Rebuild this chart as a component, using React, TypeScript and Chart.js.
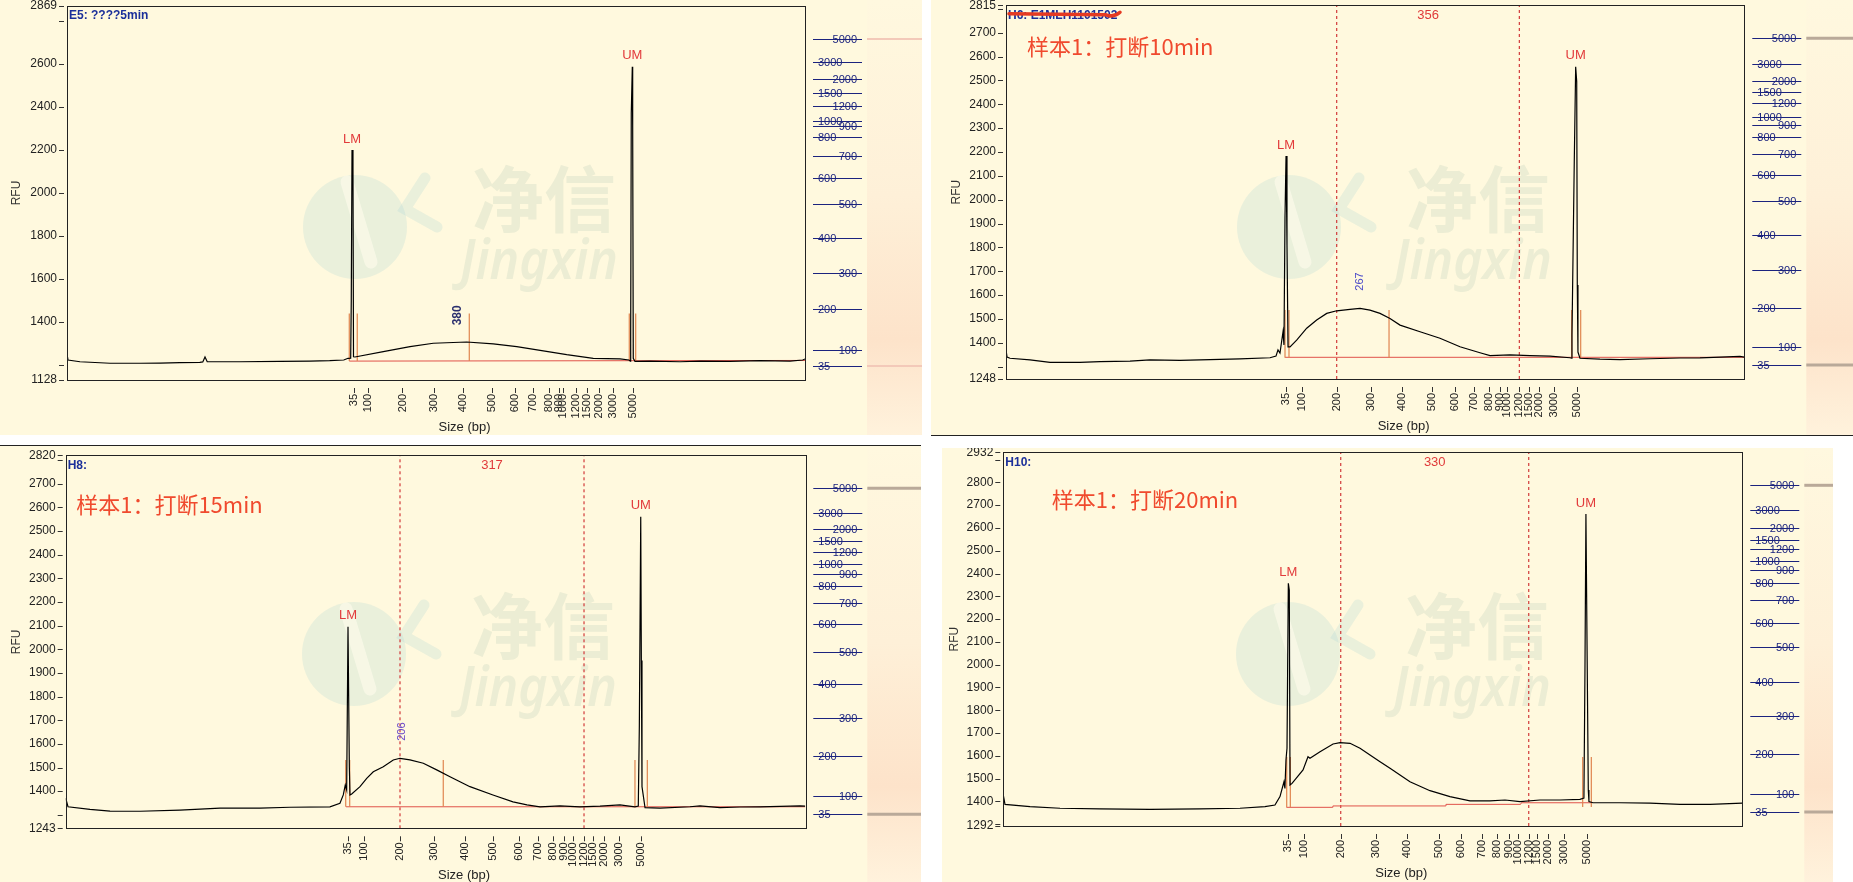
import React, { useEffect, useRef } from 'react';
import { Chart, registerables } from 'chart.js';

Chart.register(...registerables);

// ---------------- shared ----------------
const LADDER_BP = [35, 100, 200, 300, 400, 500, 600, 700, 800, 900, 1000, 1200, 1500, 2000, 3000, 5000];

// ---------------- Panel 1 : E5 ----------------
const p1Time = [0, 0.14, 1.76, 5.83, 9.89, 12.6, 15.3, 18.0, 18.4, 18.7, 19.0, 23.4, 28.9, 32.9, 35.6, 37.5, 38.08, 38.44, 38.52, 38.62, 38.75, 38.82, 39.02, 42.86, 46.48, 49.63, 54.16, 57.76, 60.94, 64.54, 67.71, 71.31, 74.93, 76.15, 76.33, 76.38, 76.46, 76.6, 76.65, 76.73, 76.96, 78.99, 83.06, 85.77, 89.84, 93.9, 97.97, 99.7, 100];
const p1Rfu = [1249, 1221, 1213, 1206, 1206, 1207, 1209, 1210, 1212, 1235, 1213, 1213, 1215, 1216, 1218, 1221, 1229, 1230, 1500, 2199, 2115, 1236, 1235, 1260, 1283, 1299, 1305, 1296, 1283, 1264, 1246, 1229, 1226, 1221, 1216, 1330, 2369, 2586, 2315, 1229, 1215, 1216, 1213, 1216, 1215, 1218, 1216, 1221, 1226];
const p1LadderTime = [38.89, 40.79, 45.46, 49.7, 53.69, 57.62, 60.7, 63.18, 65.35, 66.67, 67.21, 68.97, 70.46, 72.05, 74.02, 76.73];
const p1YTicks = [1128, 1200, 1400, 1600, 1800, 2000, 2200, 2400, 2600, 2800, 2869];
const p1YUnlabeled = [1200, 2800];
const p1Markers = [38.25, 39.33, 54.51, 76.19, 77.06];
const p1MarkerRange = [1216, 1438];
const p1BaseTime = [38.25, 100];
const p1BaseRfu = [1216, 1219];

// ---------------- Panel 2 : H6 (10 min) ----------------
const p2Time = [0, 0.14, 0.54, 3.25, 5.96, 10.02, 12.73, 16.8, 19.5, 23.57, 26.28, 31.69, 35.76, 36.57, 36.84, 37.11, 37.52, 37.65, 37.79, 37.93, 38.06, 38.2, 38.47, 39.37, 40.73, 42.08, 43.44, 44.79, 46.59, 47.95, 49.3, 50.66, 52.01, 53.37, 56.08, 58.78, 61.49, 64.2, 65.56, 68.26, 70.97, 73.68, 76.39, 76.62, 76.66, 76.97, 77.16, 77.3, 77.38, 77.47, 77.74, 80.45, 83.16, 87.22, 91.29, 94.0, 96.71, 99.42, 100];
const p2Rfu = [1370, 1340, 1335, 1328, 1318, 1318, 1321, 1323, 1328, 1326, 1328, 1332, 1337, 1344, 1370, 1357, 1446, 1391, 1929, 2183, 1810, 1383, 1383, 1411, 1461, 1495, 1523, 1534, 1540, 1544, 1537, 1523, 1502, 1474, 1446, 1419, 1383, 1358, 1346, 1349, 1346, 1344, 1337, 1335, 1432, 2159, 2557, 2495, 1642, 1361, 1335, 1331, 1329, 1333, 1336, 1337, 1340, 1343, 1340];
const p2LadderTime = [37.93, 40.05, 44.79, 49.4, 53.6, 57.66, 60.82, 63.39, 65.46, 66.91, 67.82, 69.53, 70.8, 72.15, 74.23, 77.3];
const p2YTicks = [1248, 1300, 1400, 1500, 1600, 1700, 1800, 1900, 2000, 2100, 2200, 2300, 2400, 2500, 2600, 2700, 2800, 2815];
const p2YUnlabeled = [1300, 2800];
const p2Markers = [37.79, 38.33, 51.88, 76.62, 77.84];
const p2MarkerRange = [1337, 1537];
const p2BaseTime = [37.8, 100];
const p2BaseRfu = [1339, 1339];
const p2Region = [200, 1200];

// ---------------- Panel 3 : H8 (15 min) ----------------
const p3Time = [0, 0.31, 3.28, 5.99, 10.05, 15.45, 20.86, 26.27, 30.33, 35.73, 37.08, 37.53, 37.8, 37.99, 38.17, 38.35, 38.44, 38.67, 39.79, 40.7, 41.59, 42.94, 44.29, 45.2, 46.55, 48.35, 50.16, 51.96, 54.66, 57.77, 60.48, 62.37, 64.13, 66.83, 69.54, 72.24, 74.94, 76.97, 77.42, 77.56, 77.75, 77.83, 77.92, 78.33, 80.36, 84.41, 85.76, 88.47, 91.17, 93.88, 96.58, 99.29, 100];
const p3Rfu = [1370, 1334, 1323, 1316, 1315, 1320, 1328, 1328, 1332, 1334, 1349, 1384, 1426, 1405, 2095, 1503, 1384, 1388, 1419, 1454, 1482, 1503, 1532, 1539, 1532, 1518, 1490, 1461, 1419, 1384, 1355, 1342, 1334, 1338, 1334, 1337, 1342, 1334, 1337, 1673, 2560, 1952, 1419, 1330, 1328, 1334, 1338, 1330, 1333, 1334, 1336, 1338, 1337];
const p3LadderTime = [38.13, 40.37, 45.2, 49.8, 53.99, 57.82, 61.29, 63.82, 65.93, 67.42, 68.63, 70.08, 71.34, 72.78, 74.81, 77.79];
const p3YTicks = [1243, 1300, 1400, 1500, 1600, 1700, 1800, 1900, 2000, 2100, 2200, 2300, 2400, 2500, 2600, 2700, 2800, 2820];
const p3YUnlabeled = [1300, 2800];
const p3Markers = [37.86, 38.4, 51.05, 76.97, 78.64];
const p3MarkerRange = [1334, 1532];
const p3BaseTime = [37.9, 100];
const p3BaseRfu = [1334, 1334];
const p3Region = [200, 1200];

// ---------------- Panel 4 : H10 (20 min) ----------------
const p4Time = [0, 0.23, 3.61, 7.67, 13.08, 19.85, 26.61, 32.03, 35.41, 36.76, 37.44, 37.98, 38.11, 38.25, 38.39, 38.57, 38.7, 38.8, 39.07, 40.56, 41.23, 41.5, 42.86, 44.62, 45.57, 46.92, 48.27, 49.62, 50.98, 52.33, 53.68, 55.03, 57.74, 60.44, 63.15, 65.86, 67.89, 69.92, 72.62, 75.33, 78.03, 78.57, 78.71, 78.84, 79.02, 79.16, 79.25, 79.79, 83.44, 87.51, 91.57, 95.63, 100];
const p4Rfu = [1428, 1387, 1377, 1370, 1367, 1365, 1367, 1370, 1377, 1384, 1421, 1486, 1457, 1582, 1633, 2357, 2328, 1472, 1479, 1538, 1596, 1589, 1618, 1652, 1658, 1655, 1633, 1604, 1574, 1545, 1516, 1486, 1447, 1421, 1402, 1402, 1406, 1399, 1406, 1406, 1409, 1415, 1977, 2661, 1977, 1450, 1399, 1394, 1394, 1392, 1387, 1387, 1392];
const p4LadderTime = [38.48, 40.73, 45.66, 50.39, 54.59, 58.92, 61.94, 64.74, 66.85, 68.43, 69.61, 71.1, 72.22, 73.71, 75.83, 78.94];
const p4YTicks = [1292, 1300, 1400, 1500, 1600, 1700, 1800, 1900, 2000, 2100, 2200, 2300, 2400, 2500, 2600, 2700, 2800, 2900, 2932];
const p4YUnlabeled = [1300, 2900];
const p4Markers = [38.35, 38.84, 78.4, 79.57];
const p4MarkerRange = [1375, 1595];
const p4BaseTime = [38.3, 44.5, 44.6, 59.8, 59.9, 70.0, 70.1, 79.6];
const p4BaseRfu = [1374, 1374, 1380, 1380, 1387, 1387, 1394, 1394];
const p4Region = [200, 1200];

// ---------------- specs (built from the arrays) ----------------
type Spec = {
  time: number[]; rfu: number[]; ladderTime: number[];
  yTicks: number[]; yUnlabeled: number[];
  markers: number[]; markerRange: number[];
  baseTime: number[]; baseRfu: number[];
  region: number[] | null; regionLabel: string;
  peakBp: number | null; title: string; note: string;
};

const SPECS: Spec[] = [
  { time: p1Time, rfu: p1Rfu, ladderTime: p1LadderTime, yTicks: p1YTicks, yUnlabeled: p1YUnlabeled, markers: p1Markers, markerRange: p1MarkerRange, baseTime: p1BaseTime, baseRfu: p1BaseRfu, region: null, regionLabel: '', peakBp: 380, title: 'E5: ????5min', note: '' },
  { time: p2Time, rfu: p2Rfu, ladderTime: p2LadderTime, yTicks: p2YTicks, yUnlabeled: p2YUnlabeled, markers: p2Markers, markerRange: p2MarkerRange, baseTime: p2BaseTime, baseRfu: p2BaseRfu, region: p2Region, regionLabel: '356', peakBp: 267, title: 'H6: E1MLH1101502', note: '样本1：打断10min' },
  { time: p3Time, rfu: p3Rfu, ladderTime: p3LadderTime, yTicks: p3YTicks, yUnlabeled: p3YUnlabeled, markers: p3Markers, markerRange: p3MarkerRange, baseTime: p3BaseTime, baseRfu: p3BaseRfu, region: p3Region, regionLabel: '317', peakBp: 206, title: 'H8:', note: '样本1：打断15min' },
  { time: p4Time, rfu: p4Rfu, ladderTime: p4LadderTime, yTicks: p4YTicks, yUnlabeled: p4YUnlabeled, markers: p4Markers, markerRange: p4MarkerRange, baseTime: p4BaseTime, baseRfu: p4BaseRfu, region: p4Region, regionLabel: '330', peakBp: null, title: 'H10:', note: '样本1：打断20min' },
];

// ---------------- layout / style (kept separate from data) ----------------
type Lay = {
  left: number; top: number; w: number; h: number;
  pl: number; pt: number; pr: number; pb: number;
  rfuX: number; wm: number[]; noteDx: number; noteDy: number;
  bandColor: string; bandWidth: number; peakColor: string; peakFont: string; redact: boolean;
};

const LAYS: Lay[] = [
  { left: 0, top: 0, w: 922, h: 435, pl: 67, pt: 6, pr: 805, pb: 380, rfuX: 17, wm: [355, 227], noteDx: 0, noteDy: 0, bandColor: '#F3C9B9', bandWidth: 2, peakColor: '#2A2F6E', peakFont: 'bold 12px "Liberation Sans"', redact: false },
  { left: 931, top: 0, w: 922, h: 435, pl: 75, pt: 5.3, pr: 813.3, pb: 379, rfuX: 26, wm: [358, 227], noteDx: 21, noteDy: 41.5, bandColor: '#B9A999', bandWidth: 3, peakColor: '#4A4AC8', peakFont: '11px "Liberation Sans"', redact: true },
  { left: 0, top: 446, w: 921, h: 436, pl: 65.7, pt: 9.3, pr: 805.3, pb: 382.3, rfuX: 17, wm: [354, 208], noteDx: 10.5, noteDy: 49.7, bandColor: '#B9A999', bandWidth: 3, peakColor: '#6A48C8', peakFont: '11px "Liberation Sans"', redact: false },
  { left: 942, top: 448, w: 891, h: 434, pl: 61.3, pt: 4.3, pr: 800.3, pb: 378, rfuX: 13, wm: [346, 206], noteDx: 48.5, noteDy: 47.7, bandColor: '#B9A999', bandWidth: 3, peakColor: '#4A4AC8', peakFont: '11px "Liberation Sans"', redact: false },
];

const BG = '#FFF9DE';

function interp(xs: number[], ys: number[], x: number) {
  if (x <= xs[0]) return ys[0];
  for (let i = 1; i < xs.length; i++) {
    if (x <= xs[i]) {
      const f = (x - xs[i - 1]) / (xs[i] - xs[i - 1]);
      return ys[i - 1] + f * (ys[i] - ys[i - 1]);
    }
  }
  return ys[ys.length - 1];
}

function peakIn(spec: Spec, t0: number, t1: number) {
  let bi = -1;
  for (let i = 0; i < spec.time.length; i++) {
    if (spec.time[i] >= t0 && spec.time[i] <= t1 && (bi < 0 || spec.rfu[i] > spec.rfu[bi])) bi = i;
  }
  return { t: spec.time[bi], v: spec.rfu[bi] };
}

function makePlugin(spec: Spec, lay: Lay) {
  const line = (ctx: CanvasRenderingContext2D, x0: number, y0: number, x1: number, y1: number) => {
    ctx.beginPath(); ctx.moveTo(x0, y0); ctx.lineTo(x1, y1); ctx.stroke();
  };
  return {
    id: 'decor',
    beforeDatasetsDraw(chart: any) {
      const ctx: CanvasRenderingContext2D = chart.ctx;
      const a = chart.chartArea;
      const [cx, cy] = lay.wm;
      ctx.save();
      ctx.beginPath(); ctx.rect(a.left, a.top, a.right - a.left, a.bottom - a.top); ctx.clip();
      ctx.fillStyle = 'rgba(150,205,209,0.2)';
      ctx.beginPath(); ctx.arc(cx, cy, 52, 0, Math.PI * 2); ctx.fill();
      ctx.lineCap = 'round';
      ctx.strokeStyle = 'rgba(255,252,236,0.6)'; ctx.lineWidth = 13;
      line(ctx, cx - 8, cy - 45, cx + 16, cy + 35);
      ctx.strokeStyle = 'rgba(150,205,209,0.2)'; ctx.lineWidth = 11;
      ctx.beginPath(); ctx.moveTo(cx + 70, cy - 49); ctx.lineTo(cx + 50, cy - 18); ctx.lineTo(cx + 82, cy); ctx.stroke();
      ctx.fillStyle = 'rgba(150,185,165,0.18)';
      ctx.font = 'bold 72px "Noto Sans CJK SC"'; ctx.textAlign = 'left'; ctx.textBaseline = 'middle';
      ctx.fillText('净信', cx + 117, cy - 28);
      ctx.font = 'italic 600 56px "Noto Sans"'; ctx.textBaseline = 'alphabetic';
      ctx.fillText('Jingxin', cx + 105, cy + 52, 158);
      ctx.restore();
    },
    afterDraw(chart: any) {
      const ctx: CanvasRenderingContext2D = chart.ctx;
      const a = chart.chartArea;
      const xs = chart.scales.x, ys = chart.scales.y;
      ctx.save();
      // plot frame
      ctx.strokeStyle = '#222'; ctx.lineWidth = 1;
      ctx.strokeRect(Math.round(a.left) + 0.5, Math.round(a.top) + 0.5, Math.round(a.right - a.left), Math.round(a.bottom - a.top));
      // tick marks
      ctx.strokeStyle = '#333';
      spec.yTicks.forEach((v) => { const y = Math.round(ys.getPixelForValue(v)) + 0.5; line(ctx, a.left - 8, y, a.left - 3, y); });
      spec.ladderTime.forEach((t) => { const x = Math.round(xs.getPixelForValue(t)) + 0.5; line(ctx, x, a.bottom + 8, x, a.bottom + 13); });
      // title
      ctx.font = 'bold 12px "Liberation Sans"'; ctx.fillStyle = '#1B2F9A'; ctx.textAlign = 'left'; ctx.textBaseline = 'middle';
      ctx.fillText(spec.title, a.left + 2, a.top + 10);
      if (lay.redact) {
        ctx.strokeStyle = '#E53A22'; ctx.lineWidth = 3.5; ctx.lineCap = 'round';
        ctx.beginPath(); ctx.moveTo(a.left + 3, a.top + 8.5); ctx.lineTo(a.left + 100, a.top + 9.5);
        ctx.quadraticCurveTo(a.left + 108, a.top + 12.5, a.left + 114, a.top + 7); ctx.stroke();
        ctx.lineCap = 'butt'; ctx.lineWidth = 1;
      }
      // annotation
      if (spec.note) {
        ctx.font = '22px "Noto Sans CJK SC"'; ctx.fillStyle = '#F04A2E'; ctx.textAlign = 'left'; ctx.textBaseline = 'middle';
        ctx.fillText(spec.note, a.left + lay.noteDx, a.top + lay.noteDy);
      }
      // LM / UM labels
      const lt = spec.ladderTime;
      const lm = peakIn(spec, lt[0] - 1.5, lt[0] + 1.5);
      const um = peakIn(spec, lt[lt.length - 1] - 1.5, lt[lt.length - 1] + 1.5);
      ctx.font = '13px "Liberation Sans"'; ctx.fillStyle = '#E23B3B'; ctx.textAlign = 'center'; ctx.textBaseline = 'middle';
      ctx.fillText('LM', xs.getPixelForValue(lm.t), ys.getPixelForValue(lm.v) - 11);
      ctx.fillText('UM', xs.getPixelForValue(um.t), ys.getPixelForValue(um.v) - 11);
      // region label
      if (spec.region) {
        const t1 = interp(LADDER_BP, lt, spec.region[0]);
        const t2 = interp(LADDER_BP, lt, spec.region[1]);
        ctx.fillStyle = '#E03A3A';
        ctx.fillText(spec.regionLabel, (xs.getPixelForValue(t1) + xs.getPixelForValue(t2)) / 2, a.top + 10);
      }
      // peak size label (rotated)
      if (spec.peakBp !== null) {
        const tp = interp(LADDER_BP, lt, spec.peakBp);
        const px = xs.getPixelForValue(tp);
        const py = ys.getPixelForValue(interp(spec.time, spec.rfu, tp)) - 27;
        ctx.save();
        ctx.translate(px, py); ctx.rotate(-Math.PI / 2);
        ctx.font = lay.peakFont; ctx.fillStyle = lay.peakColor; ctx.textAlign = 'center'; ctx.textBaseline = 'middle';
        ctx.fillText(String(spec.peakBp), 0, 0);
        ctx.restore();
      }
      // axis titles
      ctx.save();
      ctx.translate(lay.rfuX, (a.top + a.bottom) / 2); ctx.rotate(-Math.PI / 2);
      ctx.font = '12px "Liberation Sans"'; ctx.fillStyle = '#333'; ctx.textAlign = 'center'; ctx.textBaseline = 'middle';
      ctx.fillText('RFU', 0, 0);
      ctx.restore();
      ctx.font = '13px "Liberation Sans"'; ctx.fillStyle = '#222'; ctx.textAlign = 'center'; ctx.textBaseline = 'middle';
      ctx.fillText('Size (bp)', (a.left + a.right + 57) / 2, a.bottom + 47);
      // gel lane
      const t0 = lt[0], tN = lt[lt.length - 1];
      const gTop = a.top + 33, gBot = a.bottom - 14;
      const gy = (t: number) => gBot - ((t - t0) / (tN - t0)) * (gBot - gTop);
      const cx0 = a.right + 62;
      const grad = ctx.createLinearGradient(0, 0, 0, chart.height);
      grad.addColorStop(0, '#FFF8DF'); grad.addColorStop(0.45, '#FEF0D8'); grad.addColorStop(0.78, '#FDE3CA'); grad.addColorStop(1, '#FFF2DC');
      ctx.fillStyle = grad; ctx.fillRect(cx0, 0, chart.width - cx0, chart.height);
      ctx.strokeStyle = lay.bandColor; ctx.lineWidth = lay.bandWidth;
      [t0, tN].forEach((t) => line(ctx, cx0, gy(t), chart.width, gy(t)));
      const gx0 = a.right + 8, gx1 = a.right + 57;
      ctx.font = '11px "Liberation Sans"'; ctx.fillStyle = '#1B237E'; ctx.strokeStyle = '#1B237E'; ctx.lineWidth = 1; ctx.textBaseline = 'middle';
      lt.forEach((t, i) => {
        const y = Math.round(gy(t)) + 0.5;
        const onLeft = i % 2 === 0;
        ctx.textAlign = onLeft ? 'left' : 'right';
        ctx.fillText(String(LADDER_BP[i]), onLeft ? gx0 + 5 : gx1 - 5, y);
        line(ctx, gx0, y, gx1, y);
      });
      ctx.restore();
    },
  };
}

function Panel({ spec, lay }: { spec: Spec; lay: Lay }) {
  const ref = useRef<HTMLCanvasElement>(null);
  useEffect(() => {
    const yMin = spec.yTicks[0], yMax = spec.yTicks[spec.yTicks.length - 1];
    const datasets: any[] = [
      { data: spec.time.map((t, i) => ({ x: t, y: spec.rfu[i] })), borderColor: '#000', borderWidth: 1.2, pointRadius: 0, tension: 0 },
      ...spec.markers.map((m) => ({ data: [{ x: m, y: spec.markerRange[0] }, { x: m, y: spec.markerRange[1] }], borderColor: '#E0854F', borderWidth: 1.2, pointRadius: 0 })),
      { data: spec.baseTime.map((t, i) => ({ x: t, y: spec.baseRfu[i] })), borderColor: '#E0524A', borderWidth: 1, pointRadius: 0 },
    ];
    if (spec.region) {
      spec.region.forEach((bp) => {
        const t = interp(LADDER_BP, spec.ladderTime, bp);
        datasets.push({ data: [{ x: t, y: yMin }, { x: t, y: yMax }], borderColor: '#D23A3A', borderWidth: 1.2, borderDash: [3, 3], pointRadius: 0 });
      });
    }
    const chart = new Chart(ref.current as HTMLCanvasElement, {
      type: 'line',
      data: { datasets },
      options: {
        animation: false,
        responsive: false,
        devicePixelRatio: 1,
        events: [],
        layout: { padding: { left: 0, top: lay.pt, right: lay.w - lay.pr, bottom: 0 } },
        plugins: { legend: { display: false }, tooltip: { enabled: false } },
        scales: {
          x: {
            type: 'linear', min: 0, max: 100,
            afterBuildTicks: (s: any) => { s.ticks = spec.ladderTime.map((v) => ({ value: v })); },
            afterFit: (s: any) => { s.height = lay.h - lay.pb; s.paddingLeft = 0; s.paddingRight = 0; },
            ticks: {
              autoSkip: false, minRotation: 90, maxRotation: 90, padding: 14, color: '#222',
              font: { family: 'Liberation Sans', size: 11 },
              callback: (_v: any, i: number) => String(LADDER_BP[i]),
            },
            grid: { display: true, drawOnChartArea: false, drawTicks: false },
            border: { display: false },
          },
          y: {
            type: 'linear', min: yMin, max: yMax,
            afterBuildTicks: (s: any) => { s.ticks = spec.yTicks.map((v) => ({ value: v })); },
            afterFit: (s: any) => { s.width = lay.pl; s.paddingTop = 0; s.paddingBottom = 0; },
            ticks: {
              autoSkip: false, padding: 10, color: '#222',
              font: { family: 'Liberation Sans', size: 12 },
              callback: (v: any) => (spec.yUnlabeled.includes(Number(v)) ? '' : String(v)),
            },
            grid: { display: true, drawOnChartArea: false, drawTicks: false },
            border: { display: false },
          },
        },
      } as any,
      plugins: [makePlugin(spec, lay)],
    });
    return () => chart.destroy();
  }, []);
  return (
    <div style={{ position: 'absolute', left: lay.left, top: lay.top, width: lay.w, height: lay.h, background: BG }}>
      <canvas ref={ref} width={lay.w} height={lay.h} style={{ display: 'block', width: lay.w, height: lay.h }} />
    </div>
  );
}

export default function App() {
  return (
    <div style={{ position: 'fixed', left: 0, top: 0, width: 1853, height: 882, background: '#fff', overflow: 'hidden' }}>
      {SPECS.map((s, i) => <Panel key={i} spec={s} lay={LAYS[i]} />)}
      <div style={{ position: 'absolute', left: 931, top: 435, width: 922, height: 1, background: '#222' }} />
      <div style={{ position: 'absolute', left: 0, top: 445, width: 921, height: 1, background: '#222' }} />
    </div>
  );
}
